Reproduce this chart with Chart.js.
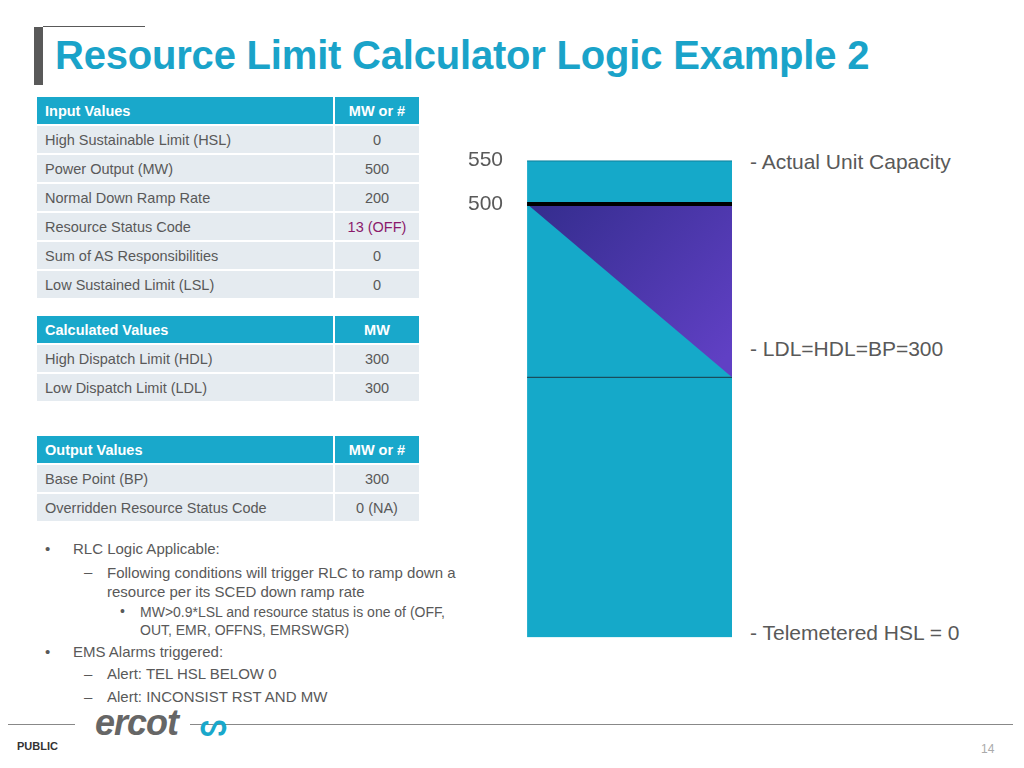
<!DOCTYPE html>
<html><head><meta charset="utf-8">
<script src="https://cdn.jsdelivr.net/npm/chart.js@4.4.1/dist/chart.umd.min.js"></script>
<style>
body{margin:0;width:1024px;height:768px;position:relative;background:#fff;font-family:Arial,"Liberation Sans",sans-serif;overflow:hidden}
.abs{position:absolute}
table{position:absolute;left:37px;border-collapse:separate;border-spacing:0 2px;font-size:14.5px;color:#595959}
td{height:27px;padding:0 0 0 8px;background:#e5ebf0;border-right:2px solid #fff}
td.v{text-align:center;padding:0;width:84px}
td.l{width:288px}
tr.h td{background:#19a8cb;color:#fff;font-weight:bold}
.b{font-size:15px;color:#595959;position:absolute}
.lab{font-size:21px;color:#595959;position:absolute}
</style></head><body>
<div class="abs" style="left:34px;top:27px;width:9px;height:58px;background:#595959"></div>
<div class="abs" style="left:43px;top:26px;width:102px;height:1px;background:#595959"></div>
<div class="abs" style="left:55px;top:33px;font-size:40px;font-weight:bold;color:#1aa3c9;letter-spacing:-0.2px">Resource Limit Calculator Logic Example 2</div>

<table style="top:95px">
<tr class="h"><td class="l">Input Values</td><td class="v">MW or #</td></tr>
<tr><td class="l">High Sustainable Limit (HSL)</td><td class="v">0</td></tr>
<tr><td class="l">Power Output (MW)</td><td class="v">500</td></tr>
<tr><td class="l">Normal Down Ramp Rate</td><td class="v">200</td></tr>
<tr><td class="l">Resource Status Code</td><td class="v" style="color:#8b1a6b">13 (OFF)</td></tr>
<tr><td class="l">Sum of AS Responsibilities</td><td class="v">0</td></tr>
<tr><td class="l">Low Sustained Limit (LSL)</td><td class="v">0</td></tr>
</table>
<table style="top:314px">
<tr class="h"><td class="l">Calculated Values</td><td class="v">MW</td></tr>
<tr><td class="l">High Dispatch Limit (HDL)</td><td class="v">300</td></tr>
<tr><td class="l">Low Dispatch Limit (LDL)</td><td class="v">300</td></tr>
</table>
<table style="top:434px">
<tr class="h"><td class="l">Output Values</td><td class="v">MW or #</td></tr>
<tr><td class="l">Base Point (BP)</td><td class="v">300</td></tr>
<tr><td class="l">Overridden Resource Status Code</td><td class="v">0 (NA)</td></tr>
</table>

<div class="b" style="left:45px;top:540px">•</div><div class="b" style="left:73px;top:540px">RLC Logic Applicable:</div>
<div class="b" style="left:84px;top:563px">–</div><div class="b" style="left:107px;top:563px;width:380px;line-height:19px">Following conditions will trigger RLC to ramp down a resource per its SCED down ramp rate</div>
<div class="b" style="left:120px;top:603px;font-size:14px">•</div><div class="b" style="left:140px;top:603px;font-size:14px;width:340px;line-height:18px">MW&gt;0.9*LSL and resource status is one of (OFF, OUT, EMR, OFFNS, EMRSWGR)</div>
<div class="b" style="left:45px;top:643px">•</div><div class="b" style="left:73px;top:643px">EMS Alarms triggered:</div>
<div class="b" style="left:84px;top:665px">–</div><div class="b" style="left:107px;top:665px">Alert: TEL HSL BELOW 0</div>
<div class="b" style="left:84px;top:688px">–</div><div class="b" style="left:107px;top:688px">Alert: INCONSIST RST AND MW</div>

<div class="abs" style="left:452px;top:132px;width:290px;height:534px"><canvas id="c"></canvas></div>
<div class="lab" style="left:750px;top:150px">- Actual Unit Capacity</div>
<div class="lab" style="left:750px;top:337px">- LDL=HDL=BP=300</div>
<div class="lab" style="left:750px;top:621px">- Telemetered HSL = 0</div>

<div class="abs" style="left:8px;top:724px;width:67px;height:1px;background:#888"></div>
<div class="abs" style="left:190px;top:724px;width:823px;height:1px;background:#888"></div>
<div class="abs" style="left:95px;top:703px;font-size:36px;line-height:40px;font-weight:bold;font-style:italic;color:#666;letter-spacing:-1px">ercot</div>
<div class="abs" style="left:200px;top:708px;font-size:30px;line-height:34px;font-weight:bold;color:#19a8cb">ᔕ</div>
<div class="abs" style="left:17px;top:740px;font-size:11px;font-weight:bold;color:#333">PUBLIC</div>
<div class="abs" style="left:981px;top:742px;font-size:12px;color:#aaa">14</div>

<script>
const xPos=[0,1];
const capacity=[550,550];
const powerOutput=[500,500];
const rampLine=[500,300];
const basePoint=[300,300];
const yTicks=[500,550];
const pts=a=>a.map((v,i)=>({x:xPos[i],y:v}));
const ctx=document.getElementById('c');
function purple(c){const a=c.chart.chartArea;if(!a)return '#4a37a8';
 const g=c.chart.ctx.createLinearGradient(a.left,a.top,a.right,a.top+a.height*0.4);
 g.addColorStop(0,'#2e2a86');g.addColorStop(1,'#6040c4');return g;}
new Chart(ctx,{type:'line',data:{datasets:[
 {data:pts(capacity),fill:'origin',backgroundColor:'#15a9c9',borderColor:'#10819d',borderWidth:2,pointRadius:0,order:4},
 {data:pts(powerOutput),fill:false,borderColor:'#000',borderWidth:4,pointRadius:0,order:1},
 {data:pts(rampLine),fill:'-1',backgroundColor:purple,borderColor:'rgba(0,0,0,0)',borderWidth:0,pointRadius:0,order:2},
 {data:pts(basePoint),fill:false,borderColor:'#1b3a44',borderWidth:1,pointRadius:0,order:3}
]},options:{animation:false,responsive:true,maintainAspectRatio:false,
 layout:{padding:{top:4,right:10,bottom:0}},
 plugins:{legend:{display:false},tooltip:{enabled:false}},
 scales:{x:{type:'linear',min:0,max:1,display:false},
  y:{min:0,max:550,grid:{display:false},border:{display:false},
   afterBuildTicks:s=>{s.ticks=yTicks.map(v=>({value:v}));},
   ticks:{font:{size:21,family:'Arial'},color:'#595959',padding:16}}}}});
</script>
</body></html>
